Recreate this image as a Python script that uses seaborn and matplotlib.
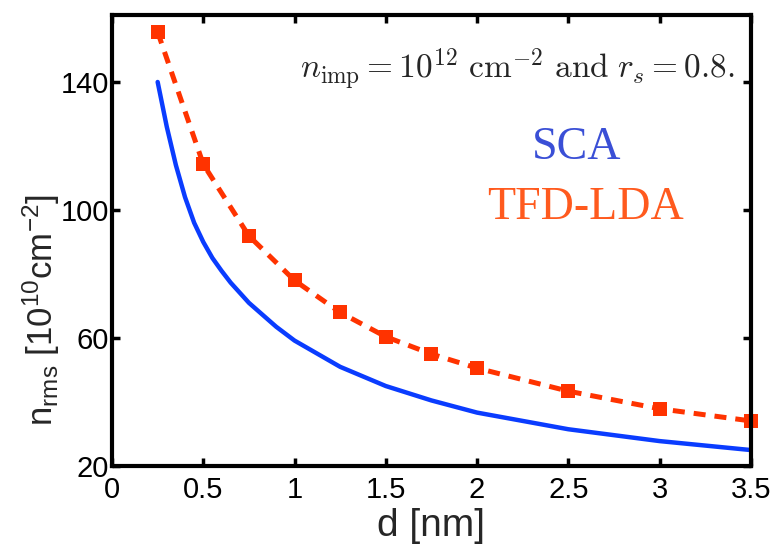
import pandas as pd
import matplotlib
matplotlib.use("Agg")
import matplotlib.pyplot as plt
import seaborn as sns

# SCA curve (solid blue)
sca_d = [0.25, 0.3, 0.35, 0.4, 0.45, 0.5, 0.55, 0.6, 0.65, 0.75, 0.9, 1.0,
         1.25, 1.5, 1.75, 2.0, 2.5, 3.0, 3.5]
sca_n = [140, 126, 114, 104, 96, 90, 85, 81, 77.3, 71, 63.5, 59.2,
         51, 45, 40.5, 36.7, 31.5, 27.8, 25]

# TFD-LDA points (red squares, dashed)
tfd_d = [0.25, 0.5, 0.75, 1.0, 1.25, 1.5, 1.75, 2.0, 2.5, 3.0, 3.5]
tfd_n = [155.6, 114.3, 91.9, 78.0, 68.0, 60.4, 55.0, 50.6, 43.4, 37.9, 34.1]

x_ticks = [0, 0.5, 1, 1.5, 2, 2.5, 3, 3.5]
y_ticks = [20, 60, 100, 140]

sns.set_style("ticks")
plt.rcParams.update({
    "font.family": ["Liberation Sans", "DejaVu Sans"],
    "mathtext.fontset": "custom",
    "mathtext.rm": "Liberation Sans",
    "mathtext.it": "Liberation Sans:italic",
    "xtick.direction": "in",
    "ytick.direction": "in",
    "xtick.top": True,
    "ytick.right": True,
})

sca_df = pd.DataFrame({"d": sca_d, "n": sca_n})
tfd_df = pd.DataFrame({"d": tfd_d, "n": tfd_n})

fig = plt.figure(figsize=(7.78, 5.47), dpi=100)
ax = fig.add_axes([0.144, 0.148, 0.821, 0.825])

sns.lineplot(data=sca_df, x="d", y="n", ax=ax, color="#0a3cff", linewidth=3.2)
sns.lineplot(data=tfd_df, x="d", y="n", ax=ax, color="#ff3300", linewidth=3.6,
             marker="s", markersize=9.5, markeredgewidth=0, clip_on=False)
ax.lines[-1].set_dashes((2.4, 1.8))

ax.set_xlim(0, 3.5)
ax.set_ylim(20, 161)
ax.set_xticks(x_ticks)
ax.set_xticklabels([f"{t:g}" for t in x_ticks])
ax.set_yticks(y_ticks)
ax.tick_params(labelsize=21, width=2.5, length=6, colors="black")
ax.tick_params(axis="x", pad=7)
ax.tick_params(axis="y", pad=2)
for s in ax.spines.values():
    s.set_linewidth(3)
    s.set_color("black")

ax.set_xlabel("d [nm]", fontsize=28)
ax.xaxis.set_label_coords(0.5, -0.093)
ax.set_ylabel(r"n$_{\rm rms}$ [10$^{10}$cm$^{-2}$]", fontsize=25)
ax.yaxis.set_label_coords(-0.078, 0.346)

ax.text(0.975, 0.878,
        r"$n_{\rm imp} = 10^{12}\ {\rm cm}^{-2}\ {\rm and}\ r_s = 0.8.$",
        transform=ax.transAxes, ha="right", va="center", fontsize=24,
        math_fontfamily="cm")
ax.text(0.728, 0.705, "SCA", transform=ax.transAxes, ha="center", va="center",
        fontsize=33, family="Liberation Serif", color="#3a4fd6")
ax.text(0.742, 0.572, "TFD-LDA", transform=ax.transAxes, ha="center", va="center",
        fontsize=33, family="Liberation Serif", color="#ff5a1e")

fig.savefig("out.png", dpi=100)
